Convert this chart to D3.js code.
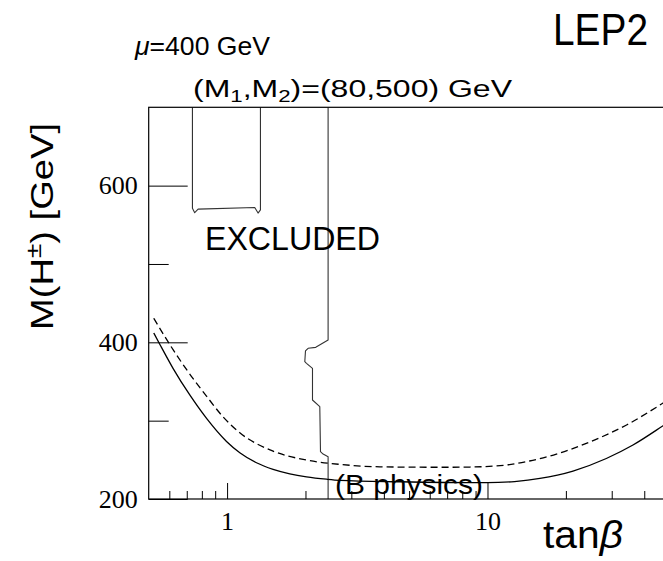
<!DOCTYPE html>
<html>
<head>
<meta charset="utf-8">
<script src="https://cdn.jsdelivr.net/npm/d3@7"></script>
<style>
  html, body { margin: 0; padding: 0; background: #fff; }
  svg { display: block; }
  .sans { font-family: "Liberation Sans", Arial, Helvetica, sans-serif; }
  .serif { font-family: "Liberation Serif", "Times New Roman", serif; }
</style>
</head>
<body>
<svg id="chart" width="663" height="561"></svg>
<script>
// tan(beta) axis ticks
const xMajorTicks = [1, 10];
const xMinorTicks = [0.6, 0.7, 0.8, 0.9, 2, 3, 4, 5, 6, 7, 8, 9, 20, 30, 40];
// charged Higgs mass axis ticks (GeV)
const yMajorTicks = [200, 400, 600];
const yMinorTicks = [300, 500];

// B-physics bound (solid)
const solidTanBeta = [0.523, 0.552, 0.62, 0.719, 0.834, 0.995, 1.119, 1.297, 1.502, 1.741, 2.018, 2.408, 2.709, 4.6, 10.0, 12.7, 15.9, 21.3, 28.6, 36.2, 47.1, 50];
const solidMass    = [411.9, 397.3, 366.8, 332.8, 302.9, 273.5, 259.1, 246.3, 237.9, 232.2, 228.3, 225.3, 223.9, 222, 220.8, 222.3, 226.2, 235.7, 251.7, 268.9, 293.2, 298.9];

// B-physics bound (dashed)
const dashedTanBeta = [0.523, 0.593, 0.703, 0.834, 0.963, 1.119, 1.502, 2.018, 2.709, 3.86, 6.56, 8.55, 11.8, 14.5, 18.4, 24.7, 34.2, 47.1, 50];
const dashedMass    = [430.7, 400.8, 364.0, 331.2, 305.2, 284.5, 261.1, 249.7, 244.2, 241.1, 240.5, 240.8, 243.4, 248.5, 257.4, 272.8, 294.5, 322.2, 327.6];

// LEP2 excluded contours
const excl1TanBeta = [0.736, 0.736, 0.751, 0.774, 1.277, 1.315, 1.343, 1.343];
const excl1Mass    = [700, 571, 565.5, 570, 572, 565, 569, 700];
const excl2TanBeta = [2.443, 2.443, 2.19, 2.047, 2.0, 1.988, 2.018, 2.128, 2.128, 2.27, 2.284, 2.337, 2.443, 2.443];
const excl2Mass    = [700, 403, 393.6, 392.4, 389, 375.3, 373.2, 366.8, 326.4, 317.8, 260.4, 257.4, 254, 200];

const svg = d3.select("#chart");
const plotLeft = 148.7, plotRight = 669.5, plotTop = 107.3, plotBottom = 499;

const x = d3.scaleLog().domain([0.5, 50]).range([plotLeft, plotRight]);
const y = d3.scaleLinear().domain([200, 700]).range([plotBottom, plotTop]);

svg.append("defs").append("clipPath").attr("id", "plotclip")
  .append("rect").attr("x", plotLeft).attr("y", plotTop)
  .attr("width", plotRight - plotLeft).attr("height", plotBottom - plotTop);

const zip = (xs, ys) => xs.map((v, i) => [v, ys[i]]);
const smooth = d3.line().x(d => x(d[0])).y(d => y(d[1])).curve(d3.curveMonotoneX);
const poly = d3.line().x(d => x(d[0])).y(d => y(d[1]));

const plot = svg.append("g").attr("clip-path", "url(#plotclip)");

// excluded region boundaries
[[excl1TanBeta, excl1Mass], [excl2TanBeta, excl2Mass]].forEach(([xs, ys]) => {
  plot.append("path").attr("d", poly(zip(xs, ys)))
    .attr("fill", "none").attr("stroke", "#333").attr("stroke-width", 1.1)
    .attr("stroke-linejoin", "round");
});

// B-physics curves
plot.append("path").attr("d", smooth(zip(dashedTanBeta, dashedMass)))
  .attr("fill", "none").attr("stroke", "#000").attr("stroke-width", 1.3)
  .attr("stroke-dasharray", "7,4");
plot.append("path").attr("d", smooth(zip(solidTanBeta, solidMass)))
  .attr("fill", "none").attr("stroke", "#000").attr("stroke-width", 1.3);

// axes (ticks point inward)
const styleAxis = g => {
  g.attr("font-family", null).attr("font-size", null);
  g.select(".domain").remove();
  g.selectAll(".tick line").attr("stroke", "#000").attr("stroke-width", 1);
  g.selectAll(".tick text").attr("class", "serif").attr("font-size", 26).attr("fill", "#000");
};

svg.append("g").attr("transform", `translate(0,${plotBottom})`)
  .call(d3.axisBottom(x).tickValues(xMajorTicks).tickFormat(d3.format("d"))
    .tickSizeInner(-16).tickSizeOuter(0).tickPadding(13))
  .call(styleAxis);
svg.append("g").attr("transform", `translate(0,${plotBottom})`)
  .call(d3.axisBottom(x).tickValues(xMinorTicks).tickFormat("")
    .tickSizeInner(-8).tickSizeOuter(0))
  .call(styleAxis);

svg.append("g").attr("transform", `translate(${plotLeft},0)`)
  .call(d3.axisLeft(y).tickValues(yMajorTicks).tickFormat(d3.format("d"))
    .tickSizeInner(-39).tickSizeOuter(0).tickPadding(11))
  .call(styleAxis);
svg.append("g").attr("transform", `translate(${plotLeft},0)`)
  .call(d3.axisLeft(y).tickValues(yMinorTicks).tickFormat("")
    .tickSizeInner(-20).tickSizeOuter(0))
  .call(styleAxis);

// frame
svg.append("rect").attr("x", plotLeft).attr("y", plotTop)
  .attr("width", plotRight - plotLeft).attr("height", plotBottom - plotTop)
  .attr("fill", "none").attr("stroke", "#000").attr("stroke-width", 1.2);

// annotations
const txt = (xp, yp, size, len) => svg.append("text").attr("class", "sans")
  .attr("x", xp).attr("y", yp)
  .attr("font-size", size).attr("fill", "#000")
  .attr("textLength", len).attr("lengthAdjust", "spacingAndGlyphs");

txt(553, 45, 45, 95).text("LEP2");

const mu = txt(135, 55, 25, 135);
mu.append("tspan").attr("font-style", "italic").text("μ");
mu.append("tspan").text("=400 GeV");

const mm = txt(193, 97, 23, 319);
mm.append("tspan").text("(M");
mm.append("tspan").attr("font-size", 16).attr("dy", 5).text("1");
mm.append("tspan").attr("dy", -5).text(",M");
mm.append("tspan").attr("font-size", 16).attr("dy", 5).text("2");
mm.append("tspan").attr("dy", -5).text(")=(80,500) GeV");

txt(205, 250, 33, 175).text("EXCLUDED");
txt(335, 494, 28, 148).text("(B physics)");

const tb = txt(543, 548, 38, 80);
tb.append("tspan").text("tan");
tb.append("tspan").attr("font-style", "italic").text("β");

const yl = svg.append("text").attr("class", "sans")
  .attr("transform", "translate(53,330) rotate(-90)")
  .attr("font-size", 32).attr("fill", "#000")
  .attr("textLength", 207).attr("lengthAdjust", "spacingAndGlyphs");
yl.append("tspan").text("M(H");
yl.append("tspan").attr("font-size", 22).attr("dy", -12).text("±");
yl.append("tspan").attr("dy", 12).text(") [GeV]");
</script>
</body>
</html>
